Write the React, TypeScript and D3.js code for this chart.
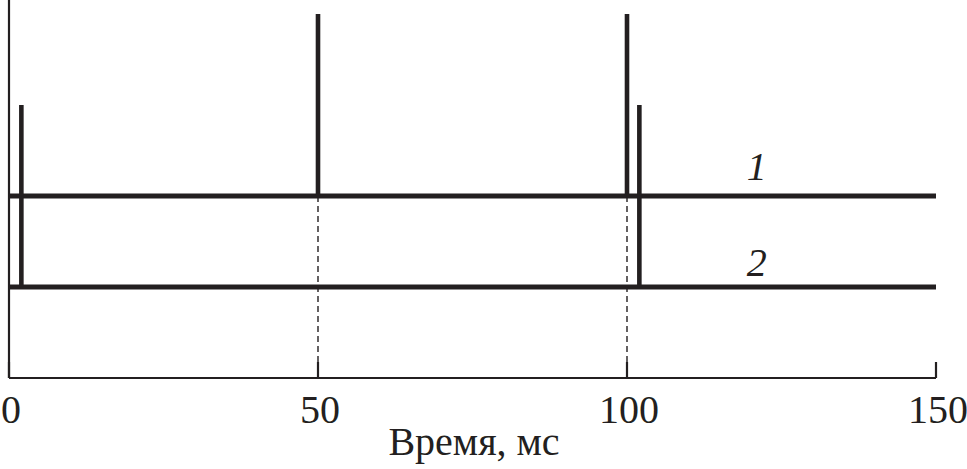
import React from "react";
import * as d3 from "d3";

const xTicks = [0, 50, 100, 150];
const xDomain = [0, 150];
const series1Level = 2;
const series2Level = 1;
const series1Spikes = [50, 100];
const series1SpikeTop = 4;
const series2Spikes = [2, 102];
const series2SpikeTop = 3;
const dashedGuides = [50, 100];
const seriesLabels = ["1", "2"];
const seriesLabelX = 121;
const xLabel = "Время, мс";

const W = 967;
const H = 469;
const INK = "#231f20";
const textStyle: React.CSSProperties = {
  fontFamily: '"Liberation Serif", "Times New Roman", Times, serif',
};

export default function App() {
  const x = d3.scaleLinear().domain(xDomain).range([9, 936]);
  const y = d3.scaleLinear().domain([0, 4]).range([378, 14]);
  const line = d3.line<[number, number]>().x((d) => x(d[0])).y((d) => y(d[1]));
  const yAxisTop = 0;

  return (
    <svg
      width={W}
      height={H}
      style={{ position: "absolute", left: 0, top: 0, background: "#fff" }}
    >
      {dashedGuides.map((g) => (
        <path
          key={"g" + g}
          d={line([[g, series1Level], [g, 0]]) || ""}
          stroke={INK}
          strokeWidth={1.4}
          strokeDasharray="6,4"
          fill="none"
        />
      ))}
      <line x1={x(0)} x2={x(0)} y1={yAxisTop} y2={y(0)} stroke={INK} strokeWidth={2.2} />
      <line x1={x(0)} x2={x(150)} y1={y(0)} y2={y(0)} stroke={INK} strokeWidth={2.2} />
      {xTicks.map((t) => (
        <g key={"t" + t}>
          <line x1={x(t)} x2={x(t)} y1={y(0)} y2={y(0) - 16} stroke={INK} strokeWidth={2.2} />
          <text
            x={x(t) + 2}
            y={423}
            textAnchor="middle"
            fontSize={40}
            fill={INK}
            style={textStyle}
          >
            {t}
          </text>
        </g>
      ))}
      <text x={474} y={455} textAnchor="middle" fontSize={40} fill={INK} style={textStyle}>
        {xLabel}
      </text>
      <path
        d={line([[0, series1Level], [150, series1Level]]) || ""}
        stroke={INK}
        strokeWidth={5}
        fill="none"
      />
      {series1Spikes.map((s) => (
        <path
          key={"s1" + s}
          d={line([[s, series1Level], [s, series1SpikeTop]]) || ""}
          stroke={INK}
          strokeWidth={4.6}
          fill="none"
        />
      ))}
      <path
        d={line([[0, series2Level], [150, series2Level]]) || ""}
        stroke={INK}
        strokeWidth={5}
        fill="none"
      />
      {series2Spikes.map((s) => (
        <path
          key={"s2" + s}
          d={line([[s, series2Level], [s, series2SpikeTop]]) || ""}
          stroke={INK}
          strokeWidth={4.6}
          fill="none"
        />
      ))}
      <text
        x={x(seriesLabelX)}
        y={y(series1Level) - 16}
        textAnchor="middle"
        fontSize={40}
        fontStyle="italic"
        fill={INK}
        style={textStyle}
      >
        {seriesLabels[0]}
      </text>
      <text
        x={x(seriesLabelX)}
        y={y(series2Level) - 11}
        textAnchor="middle"
        fontSize={40}
        fontStyle="italic"
        fill={INK}
        style={textStyle}
      >
        {seriesLabels[1]}
      </text>
    </svg>
  );
}
